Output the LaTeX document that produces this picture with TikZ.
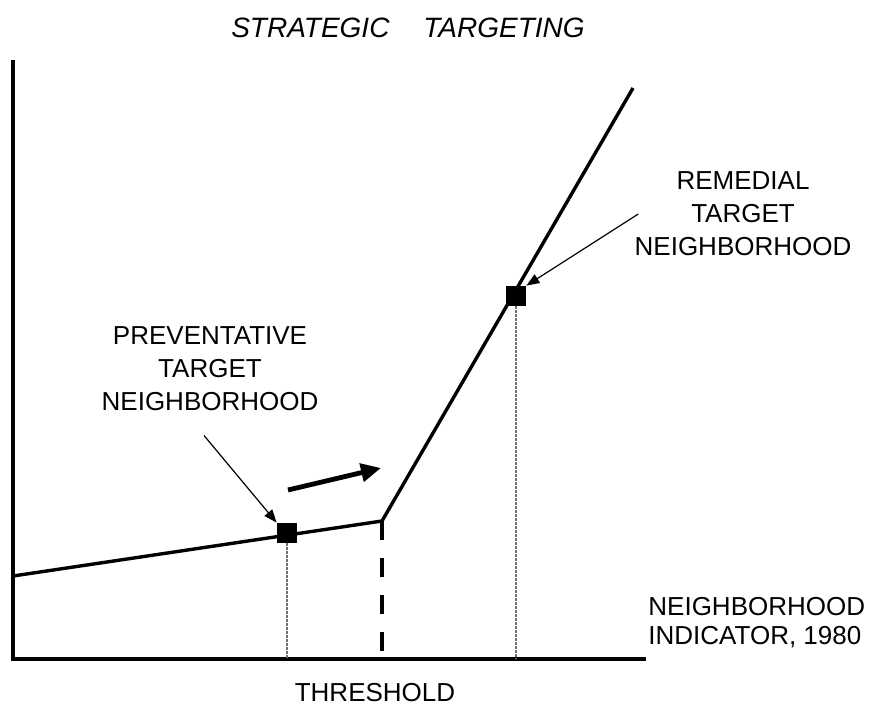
\documentclass[tikz,border=0pt]{standalone}
\usepackage{fontspec}
\setmainfont{Liberation Sans}
\usepackage{xcolor}
\usepackage{tikz}
\usetikzlibrary{arrows.meta,positioning}
\definecolor{ink}{HTML}{000000}
\definecolor{guide}{HTML}{707070}
\tikzset{
  axis/.style={draw=ink, line width=2pt, line cap=rect},
  curve/.style={draw=ink, line width=1.7pt, line join=miter},
  thresh/.style={draw=ink, line width=2.1pt, dash pattern=on 9.5pt off 9pt},
  dropline/.style={draw=guide, line width=0.6pt, dash pattern=on 1.5pt off 0.5pt},
  target/.style={fill=ink, minimum size=10pt, inner sep=0pt},
  caption/.style={font=\fontsize{13}{16.5}\selectfont, align=center, inner sep=0pt},
  pointer/.style={-{Triangle[length=6.5pt,width=5pt]}, draw=ink, line width=0.6pt},
  push/.style={-{Triangle[length=10pt,width=9pt]}, draw=ink, line width=2.4pt}
}
\begin{document}
\begin{tikzpicture}[x=0.5pt, y=-0.5pt]
  \useasboundingbox (0,0) rectangle (886,711);

  \coordinate (origin) at (13,659);
  \coordinate (ytop) at (13,62);
  \coordinate (xend) at (644,659);
  \coordinate (start) at (13,576);
  \coordinate (kink) at (382,521);
  \coordinate (top) at (633,88);
  \coordinate (kinkfoot) at (382,659);

  \node[caption, font=\fontsize{14}{16.5}\selectfont\itshape] (title) at (408,28) {STRATEGIC\hspace{17pt}TARGETING};

  \draw[axis] (ytop) -- (origin) -- (xend);
  \draw[curve] (start) -- (kink) -- (top);
  \draw[thresh] (kink) -- (kinkfoot);

  \node[target] (prevsq) at (287,533) {};
  \node[target] (remsq) at (516,296) {};
  \coordinate (prevfoot) at (287,659);
  \coordinate (remfoot) at (516,659);
  \draw[dropline] (prevsq.south) -- (prevfoot);
  \draw[dropline] (remsq.south) -- (remfoot);

  \node[caption] (prev) at (210,369) {PREVENTATIVE\\TARGET\\NEIGHBORHOOD};
  \node[caption] (rem) at (743,214) {REMEDIAL\\TARGET\\NEIGHBORHOOD};
  \node[caption, align=left, anchor=west, font=\fontsize{13}{14.5}\selectfont] (xlabel) at (648,623) {NEIGHBORHOOD\\INDICATOR, 1980};
  \node[caption] (threshold) at (375,693) {THRESHOLD};

  \draw[pointer] ([xshift=-3pt,yshift=-12pt]prev.south) -- (prevsq.north west);
  \draw[pointer] ([xshift=2pt]rem.west) -- (remsq.north east);

  \coordinate (shiftfrom) at (288,490);
  \coordinate (shiftto) at (381,468);
  \draw[push] (shiftfrom) -- (shiftto);
\end{tikzpicture}
\end{document}
